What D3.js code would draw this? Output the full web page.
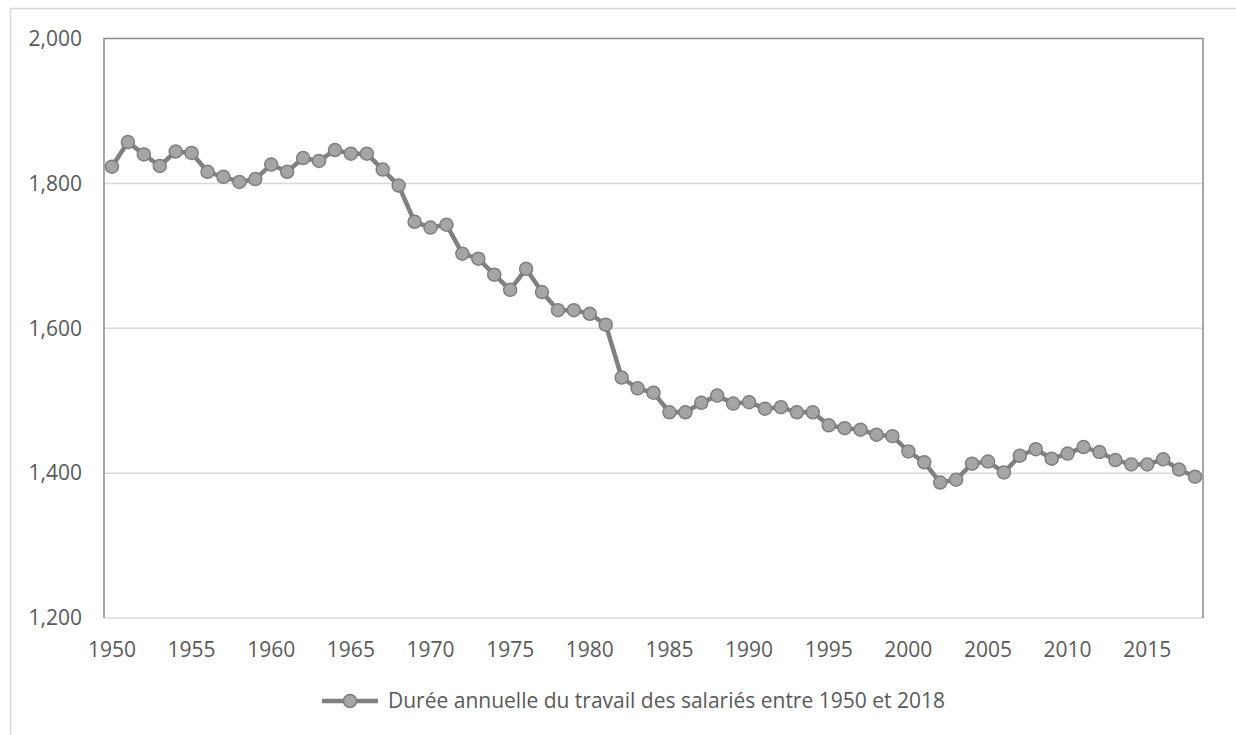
<!DOCTYPE html>
<html>
<head>
<meta charset="utf-8">
<script src="https://cdn.jsdelivr.net/npm/d3@7"></script>
<style>
  body { margin: 0; background: #fff; }
  text { font-family: "Open Sans", "Noto Sans", sans-serif; fill: #595959; }
</style>
</head>
<body>
<div id="chart"></div>
<script>
const years = d3.range(1950, 2019);
const hours = [
  1823, 1857, 1840, 1824, 1844, 1842, 1816, 1809, 1802, 1806,
  1826, 1816, 1835, 1831, 1846, 1841, 1841, 1819, 1797, 1747,
  1739, 1743, 1703, 1696, 1674, 1653, 1682, 1650, 1625, 1625,
  1620, 1605, 1532, 1517, 1511, 1484, 1484, 1497, 1507, 1496,
  1498, 1489, 1491, 1484, 1484, 1466, 1462, 1460, 1453, 1451,
  1430, 1415, 1387, 1391, 1413, 1416, 1401, 1424, 1433, 1420,
  1427, 1436, 1429, 1418, 1412, 1412, 1419, 1405, 1395
];
const yTicks = [1200, 1400, 1600, 1800, 2000];
const xTicks = years.filter(y => y % 5 === 0);
const seriesName = 'Durée annuelle du travail des salariés entre 1950 et 2018';

const config = {
  width: 1236,
  height: 735,
  left: 104,
  top: 38.5,
  right: 1203,
  bottom: 618,
  fontSize: '21px',
  lineColor: '#808080',
  markerFill: '#a5a5a5',
  markerStroke: '#7f7f7f',
  gridColor: '#d9d9d9'
};

const data = years.map((y, i) => ({year: y, value: hours[i]}));

const svg = d3.select('#chart')
  .append('svg')
  .attr('width', config.width)
  .attr('height', config.height);

// outer chart area border
svg.append('rect')
  .attr('x', 10.5)
  .attr('y', 8.5)
  .attr('width', config.width)
  .attr('height', config.height)
  .attr('fill', 'none')
  .attr('stroke', config.gridColor)
  .attr('stroke-width', 1.5);

const scaleX = d3.scaleBand()
  .domain(years)
  .range([config.left, config.right]);

const scaleY = d3.scaleLinear()
  .domain([1200, 2000])
  .range([config.bottom, config.top]);

const cx = d => scaleX(d) + scaleX.bandwidth() / 2;

// gridlines
svg.selectAll('.grid')
  .data(yTicks.filter(t => t > 1200 && t < 2000))
  .enter()
  .append('line')
  .attr('x1', config.left)
  .attr('x2', config.right)
  .attr('y1', d => scaleY(d))
  .attr('y2', d => scaleY(d))
  .attr('stroke', config.gridColor)
  .attr('stroke-width', 1.5);

// bottom axis line
svg.append('line')
  .attr('x1', config.left)
  .attr('x2', config.right)
  .attr('y1', config.bottom)
  .attr('y2', config.bottom)
  .attr('stroke', config.gridColor)
  .attr('stroke-width', 1.5);

// frame left, top, right
svg.append('path')
  .attr('d', `M${config.left},${config.bottom}V${config.top}H${config.right}V${config.bottom}`)
  .attr('fill', 'none')
  .attr('stroke', '#8c8c8c')
  .attr('stroke-width', 1.5);

// y labels
svg.selectAll('.ylab')
  .data(yTicks)
  .enter()
  .append('text')
  .attr('x', 82)
  .attr('y', d => scaleY(d))
  .attr('dy', '0.35em')
  .attr('text-anchor', 'end')
  .style('font-size', config.fontSize)
  .text(d => d3.format(',')(d));

// x labels
svg.selectAll('.xlab')
  .data(xTicks)
  .enter()
  .append('text')
  .attr('x', d => cx(d))
  .attr('y', 650)
  .attr('dy', '0.35em')
  .attr('text-anchor', 'middle')
  .style('font-size', config.fontSize)
  .text(d => d);

const line = d3.line()
  .x(d => cx(d.year))
  .y(d => scaleY(d.value));

svg.append('path')
  .datum(data)
  .attr('d', line)
  .attr('fill', 'none')
  .attr('stroke', config.lineColor)
  .attr('stroke-width', 4.5)
  .attr('stroke-linejoin', 'round');

svg.selectAll('.dot')
  .data(data)
  .enter()
  .append('circle')
  .attr('cx', d => cx(d.year))
  .attr('cy', d => scaleY(d.value))
  .attr('r', 6.5)
  .attr('fill', config.markerFill)
  .attr('stroke', config.markerStroke)
  .attr('stroke-width', 1.5);

// legend
const legend = svg.append('g').attr('transform', 'translate(322, 701)');
legend.append('line')
  .attr('x1', 0)
  .attr('x2', 56)
  .attr('stroke', config.lineColor)
  .attr('stroke-width', 4.5);
legend.append('circle')
  .attr('cx', 28)
  .attr('r', 6.5)
  .attr('fill', config.markerFill)
  .attr('stroke', config.markerStroke)
  .attr('stroke-width', 1.5);
legend.append('text')
  .attr('x', 66)
  .attr('dy', '0.35em')
  .style('font-size', config.fontSize)
  .text(seriesName);
</script>
</body>
</html>
